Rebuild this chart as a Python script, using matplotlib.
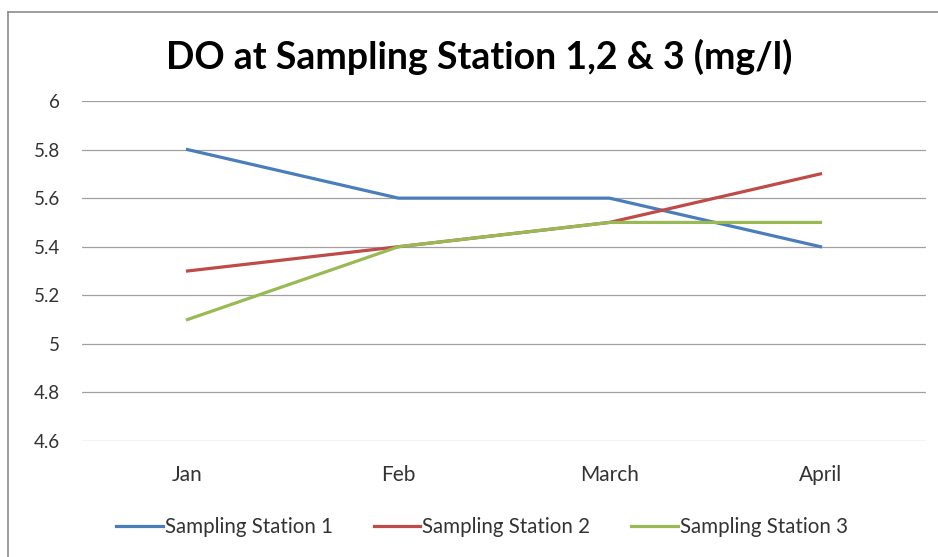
import matplotlib.pyplot as plt
from matplotlib.lines import Line2D

# Chart data
months = ["Jan", "Feb", "March", "April"]
station_1 = [5.8, 5.6, 5.6, 5.4]
station_2 = [5.3, 5.4, 5.5, 5.7]
station_3 = [5.1, 5.4, 5.5, 5.5]
series_names = ["Sampling Station 1", "Sampling Station 2", "Sampling Station 3"]
y_ticks = [4.6, 4.8, 5, 5.2, 5.4, 5.6, 5.8, 6]

colors = ["#4A7EBB", "#BE4B48", "#98B954"]

plt.rcParams["font.family"] = ["Lato", "DejaVu Sans"]

W, H = 938, 557
fig = plt.figure(figsize=(W / 100, H / 100), dpi=100)
ax = fig.add_axes([82 / W, (H - 441) / H, (926 - 82) / W, (441 - 101) / H])

x = range(len(months))
for values, name, color in zip([station_1, station_2, station_3], series_names, colors):
    ax.plot(x, values, color=color, linewidth=2.3, label=name)

ax.set_xlim(-0.5, len(months) - 0.5)
ax.set_ylim(4.6, 6)
ax.set_yticks(y_ticks)
ax.set_yticklabels([f"{t:g}" for t in y_ticks])
ax.set_xticks(list(x))
ax.set_xticklabels(months)
ax.grid(axis="y", color="#a0a0a0", linewidth=0.9)
ax.set_axisbelow(True)
for spine in ax.spines.values():
    spine.set_visible(False)
ax.tick_params(length=0, colors="#333333")
ax.tick_params(axis="y", pad=16, labelsize=13.5)
ax.tick_params(axis="x", pad=17, labelsize=15)

fig.text(479 / W, 1 - 57 / H, "DO at Sampling Station 1,2 & 3 (mg/l)",
         ha="center", va="center", fontsize=27, fontweight="bold")

ax.legend(loc="center", bbox_to_anchor=(482 / W, 1 - 527 / H),
          bbox_transform=fig.transFigure, ncol=3, frameon=False,
          fontsize=14.8, handlelength=2.25, handletextpad=0.1, columnspacing=2.0,
          labelcolor="#333333")

# chart border (top and left edges visible)
fig.add_artist(Line2D([8 / W, 8 / W], [0, 1 - 12 / H], transform=fig.transFigure,
                      color="#8c8c8c", linewidth=1.2))
fig.add_artist(Line2D([8 / W, 1], [1 - 12 / H, 1 - 12 / H], transform=fig.transFigure,
                      color="#8c8c8c", linewidth=1.2))

fig.savefig("out.png", dpi=100)
